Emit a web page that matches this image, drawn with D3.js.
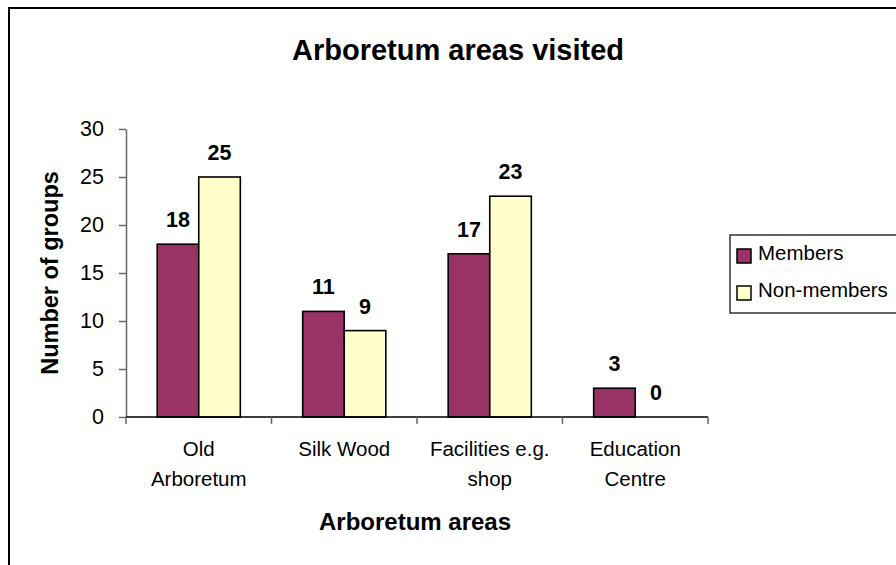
<!DOCTYPE html>
<html>
<head>
<meta charset="utf-8">
<script src="https://cdn.jsdelivr.net/npm/d3@7"></script>
<style>
  body { margin: 0; background: #fff; }
  svg { display: block; font-family: "Liberation Sans", Arial, sans-serif; }
</style>
</head>
<body>
<svg id="chart" width="896" height="565"></svg>
<script>
// data
const categories = ["Old\nArboretum", "Silk Wood", "Facilities e.g.\nshop", "Education\nCentre"];
const seriesNames = ["Members", "Non-members"];
const members = [18, 11, 17, 3];
const nonMembers = [25, 9, 23, 0];
const yTicks = [0, 5, 10, 15, 20, 25, 30];

const colors = { "Members": "#993366", "Non-members": "#FFFFCC" };
const values = { "Members": members, "Non-members": nonMembers };

const svg = d3.select("#chart");

// outer chart border (runs past the right and bottom edges)
svg.append("rect")
  .attr("x", 9).attr("y", 8)
  .attr("width", 920).attr("height", 620)
  .attr("fill", "#fff")
  .attr("stroke", "#000")
  .attr("stroke-width", 2);

const plot = { left: 126, right: 708, top: 129, bottom: 417 };

const x0 = d3.scaleBand()
  .domain(categories)
  .range([plot.left, plot.right]);

const x1 = d3.scaleBand()
  .domain(seriesNames)
  .range([0, x0.bandwidth()])
  .paddingInner(0)
  .paddingOuter(0.75);

const y = d3.scaleLinear()
  .domain([0, 30])
  .range([plot.bottom, plot.top]);

// title
svg.append("text")
  .attr("x", 458).attr("y", 60)
  .attr("text-anchor", "middle")
  .attr("font-size", 29)
  .attr("font-weight", "bold")
  .text("Arboretum areas visited");

// y axis
const yAxis = d3.axisLeft(y)
  .tickValues(yTicks)
  .tickSize(7)
  .tickSizeOuter(0)
  .tickPadding(15);

const yAxisGroup = svg.append("g")
  .attr("transform", `translate(${plot.left},0)`)
  .call(yAxis);
yAxisGroup.select(".domain").attr("stroke", "#666").attr("stroke-width", 1.5);
yAxisGroup.selectAll(".tick line").attr("stroke", "#666").attr("stroke-width", 1.5);
yAxisGroup.selectAll("text")
  .attr("font-size", 21.5)
  .attr("fill", "#000")
  .attr("font-family", "'Liberation Sans', Arial, sans-serif");

// y axis title
svg.append("text")
  .attr("transform", `translate(58,${(plot.top + plot.bottom) / 2}) rotate(-90)`)
  .attr("text-anchor", "middle")
  .attr("font-size", 23.5)
  .attr("font-weight", "bold")
  .text("Number of groups");

// bars
const groups = svg.append("g")
  .selectAll("g")
  .data(categories)
  .enter()
  .append("g")
  .attr("transform", d => `translate(${x0(d)},0)`);

groups.selectAll("rect")
  .data((d, i) => seriesNames.map(s => ({ key: s, value: values[s][i] })))
  .enter()
  .append("rect")
  .attr("x", d => x1(d.key))
  .attr("y", d => y(d.value))
  .attr("width", x1.bandwidth())
  .attr("height", d => y(0) - y(d.value))
  .attr("fill", d => colors[d.key])
  .attr("stroke", "#000")
  .attr("stroke-width", d => d.value > 0 ? 1.6 : 0);

// data labels
groups.selectAll("text.value")
  .data((d, i) => seriesNames.map(s => ({ key: s, value: values[s][i] })))
  .enter()
  .append("text")
  .attr("class", "value")
  .attr("x", d => x1(d.key) + x1.bandwidth() / 2)
  .attr("y", d => y(d.value) - 17)
  .attr("text-anchor", "middle")
  .attr("font-size", 21.5)
  .attr("font-weight", "bold")
  .text(d => d.value);

// x axis line and ticks at band edges
svg.append("line")
  .attr("x1", plot.left).attr("x2", plot.right)
  .attr("y1", plot.bottom).attr("y2", plot.bottom)
  .attr("stroke", "#000")
  .attr("stroke-width", 1.5);

const edges = categories.map(c => x0(c)).concat([plot.right]);
svg.append("g")
  .selectAll("line")
  .data(edges)
  .enter()
  .append("line")
  .attr("x1", d => d).attr("x2", d => d)
  .attr("y1", plot.bottom).attr("y2", plot.bottom + 7)
  .attr("stroke", "#666")
  .attr("stroke-width", 1.5);

// category labels (two lines where Excel wrapped them)
const catLabels = svg.append("g")
  .selectAll("text")
  .data(categories)
  .enter()
  .append("text")
  .attr("text-anchor", "middle")
  .attr("font-size", 20.5)
  .attr("x", d => x0(d) + x0.bandwidth() / 2);

catLabels.selectAll("tspan")
  .data(d => d.split("\n").map(line => ({ line, x: x0(d) + x0.bandwidth() / 2 })))
  .enter()
  .append("tspan")
  .attr("x", d => d.x)
  .attr("y", (d, i) => 455.5 + i * 30)
  .text(d => d.line);

// x axis title
svg.append("text")
  .attr("x", 415).attr("y", 530)
  .attr("text-anchor", "middle")
  .attr("font-size", 24)
  .attr("font-weight", "bold")
  .text("Arboretum areas");

// legend
const legend = svg.append("g").attr("transform", "translate(730,235)");
legend.append("rect")
  .attr("width", 180).attr("height", 78)
  .attr("fill", "#fff")
  .attr("stroke", "#000")
  .attr("stroke-width", 1.2);

const items = legend.selectAll("g")
  .data(seriesNames)
  .enter()
  .append("g")
  .attr("transform", (d, i) => `translate(7,${14 + i * 37})`);

items.append("rect")
  .attr("width", 14).attr("height", 14)
  .attr("fill", d => colors[d])
  .attr("stroke", "#000")
  .attr("stroke-width", 1.5);

items.append("text")
  .attr("x", 21).attr("y", 11)
  .attr("font-size", 20.5)
  .text(d => d);
</script>
</body>
</html>
